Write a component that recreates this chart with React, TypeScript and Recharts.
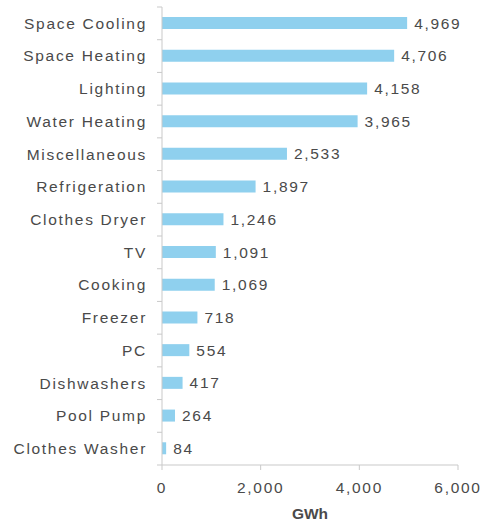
import React from "react";
import { BarChart, Bar, XAxis, YAxis, LabelList, Label } from "recharts";

const categories = [
  "Space Cooling",
  "Space Heating",
  "Lighting",
  "Water Heating",
  "Miscellaneous",
  "Refrigeration",
  "Clothes Dryer",
  "TV",
  "Cooking",
  "Freezer",
  "PC",
  "Dishwashers",
  "Pool Pump",
  "Clothes Washer",
];
const values = [4969, 4706, 4158, 3965, 2533, 1897, 1246, 1091, 1069, 718, 554, 417, 264, 84];
const xTicks = [0, 2000, 4000, 6000];

const data = categories.map((name, i) => ({ name, value: values[i] }));

const W = 485;
const H = 524;
const M = { top: 7, right: 27, bottom: 0, left: 0 };
const X_AXIS_H = 59;
const Y_AXIS_W = 162;
const BAND = (H - M.top - M.bottom - X_AXIS_H) / data.length;

const FONT = "'Liberation Sans', Arial, sans-serif";
const TEXT = "#4a4a4a";
const AXIS = "#c9c9c9";
const FS = 15.5;
const LS = 1.7;

const fmt = (v: number) => v.toLocaleString("en-US");

const YTick = (props: any) => {
  const { x, y, payload, index } = props;
  const axisX = Y_AXIS_W + M.left;
  return (
    <g>
      <line x1={axisX} x2={axisX - 5} y1={y - BAND / 2} y2={y - BAND / 2} stroke={AXIS} />
      {index === data.length - 1 && (
        <line x1={axisX} x2={axisX - 5} y1={y + BAND / 2} y2={y + BAND / 2} stroke={AXIS} />
      )}
      <text
        x={x + 1}
        y={y}
        dy="0.35em"
        textAnchor="end"
        fill={TEXT}
        fontSize={FS}
        fontFamily={FONT}
        letterSpacing={LS}
      >
        {payload.value}
      </text>
    </g>
  );
};

export default function App() {
  return (
    <div style={{ position: "absolute", left: 0, top: 0, width: W, height: H, background: "#fff" }}>
      <BarChart width={W} height={H} data={data} layout="vertical" margin={M}>
        <XAxis
          type="number"
          domain={[0, 6000]}
          ticks={xTicks}
          tickFormatter={fmt}
          height={X_AXIS_H}
          stroke={AXIS}
          tickSize={5}
          tickMargin={12}
          tick={{ fill: TEXT, fontSize: FS, fontFamily: FONT, letterSpacing: LS }}
          interval={0}
        >
          <Label
            value="GWh"
            position="insideBottom"
            offset={5}
            fill={TEXT}
            fontSize={FS}
            fontWeight="bold"
            fontFamily={FONT}
          />
        </XAxis>
        <YAxis
          type="category"
          dataKey="name"
          width={Y_AXIS_W}
          stroke={AXIS}
          tickLine={false}
          tickSize={6}
          tickMargin={10}
          interval={0}
          tick={<YTick />}
        />
        <Bar dataKey="value" fill="#8fd0ee" barSize={12} isAnimationActive={false}>
          <LabelList
            dataKey="value"
            position="right"
            offset={7}
            formatter={(v: any) => fmt(Number(v))}
            fill={TEXT}
            fontSize={FS}
            fontFamily={FONT}
            letterSpacing={LS}
          />
        </Bar>
      </BarChart>
    </div>
  );
}
